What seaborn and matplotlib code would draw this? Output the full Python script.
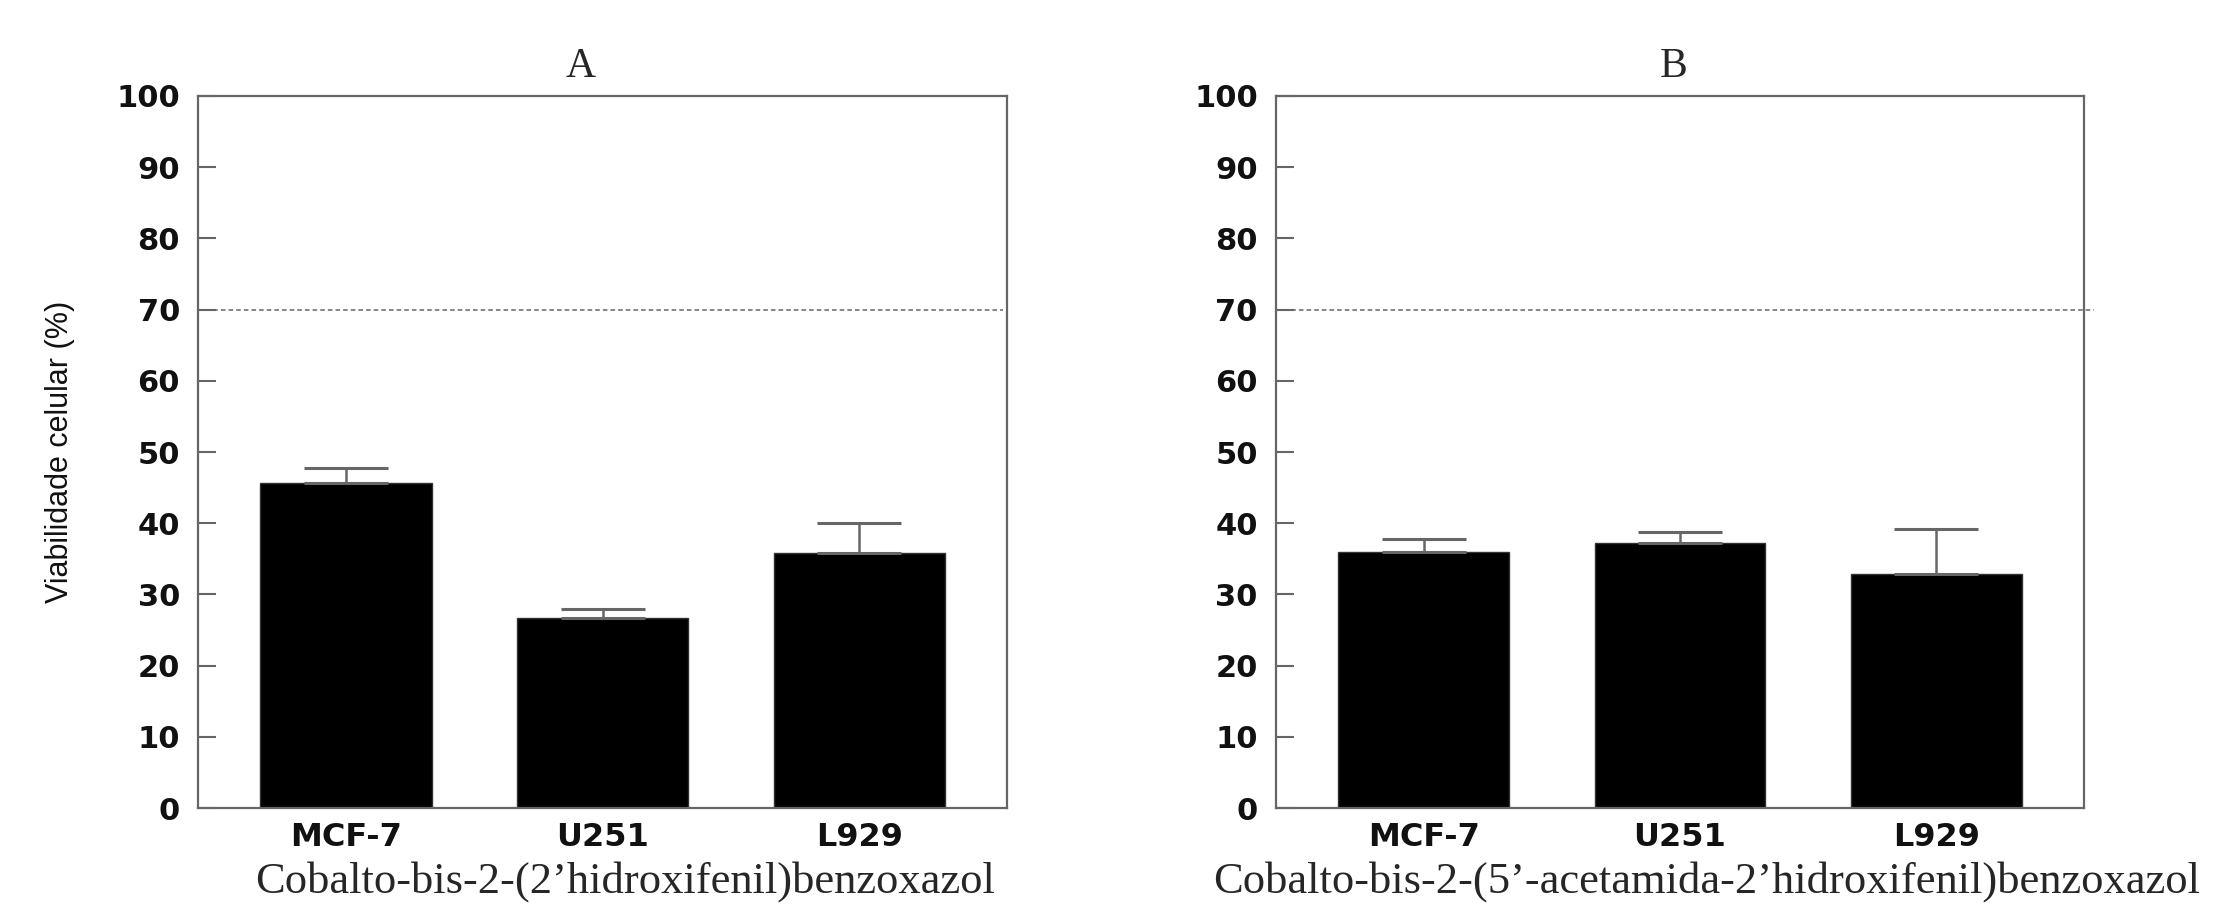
import numpy as np
import pandas as pd
import matplotlib
matplotlib.use("Agg")
import matplotlib.pyplot as plt
from matplotlib import font_manager
import seaborn as sns

# ─── Dados ───────────────────────────────────────────────────
cell_lines = ["MCF-7", "U251", "L929"]
viab_a = [45.6, 26.7, 35.8]
err_a = [2.2, 1.2, 4.2]
viab_b = [35.9, 37.2, 32.8]
err_b = [1.9, 1.6, 6.4]
panel_titles = ["A", "B"]
compound_names = [
    "Cobalto-bis-2-(2\u2019hidroxifenil)benzoxazol",
    "Cobalto-bis-2-(5\u2019-acetamida-2\u2019hidroxifenil)benzoxazol",
]
threshold = 70
y_ticks = list(range(0, 101, 10))

sns.set_style("white")
plt.rcParams["font.family"] = ["DejaVu Sans"]

# fonte condensada para o rótulo do eixo y, se existir
installed = {f.name for f in font_manager.fontManager.ttflist}
if "Liberation Sans Narrow" in installed:
    ylab_font, ylab_size = "Liberation Sans Narrow", 25
else:
    ylab_font, ylab_size = "Liberation Sans", 22

fig = plt.figure(figsize=(22.14, 9.08), dpi=100)
ax_a = fig.add_axes([0.0894, 0.1101, 0.3655, 0.7842])
ax_b = fig.add_axes([0.5763, 0.1101, 0.3650, 0.7842])

gray = "#666666"
panels = [
    (ax_a, viab_a, err_a, 0.473, 0.528, 0.995),
    (ax_b, viab_b, err_b, 0.492, 0.533, 1.012),
]

for i, (ax, vals, errs, tx, lx, line_end) in enumerate(panels):
    df = pd.DataFrame({"linha": cell_lines, "viab": vals})
    sns.barplot(data=df, x="linha", y="viab", color="black", width=0.667,
                errorbar=None, saturation=1, edgecolor="#333333",
                linewidth=1, ax=ax)
    ax.errorbar(np.arange(len(vals)), vals, yerr=[np.zeros(len(errs)), errs],
                fmt="none", ecolor=gray, elinewidth=1.8, capsize=30,
                capthick=2.2, zorder=1)
    # linha de 70 % (limite de citotoxicidade)
    ax.axhline(threshold, xmin=0, xmax=line_end, color=gray, lw=1.1,
               ls=(0, (3, 2)), zorder=0, clip_on=False)

    ax.set_xlim(-0.577, 2.577)
    ax.set_ylim(0, 100)
    ax.set_yticks(y_ticks)
    ax.set_yticklabels([str(t) for t in y_ticks], fontsize=22,
                       fontweight="bold", color="#111111")
    ax.set_xticks(range(3))
    ax.set_xticklabels(cell_lines, fontsize=23, fontweight="bold",
                       color="#111111")
    ax.tick_params(axis="y", direction="in", length=13, width=1.5,
                   color=gray, pad=13, left=True)
    ax.tick_params(axis="x", length=0, pad=10)

    for s in ax.spines.values():
        s.set_visible(True)
        s.set_color(gray)
        s.set_linewidth(1.6)

    ax.set_title(panel_titles[i], fontsize=30, family="Liberation Serif",
                 x=tx, pad=14)
    ax.set_xlabel(compound_names[i], fontsize=32, family="Liberation Serif")
    ax.xaxis.set_label_coords(lx, -0.075)
    ax.set_ylabel("")

ax_a.set_ylabel("Viabilidade celular (%)", fontsize=ylab_size,
                family=[ylab_font, "DejaVu Sans"], color="#111111")
ax_a.yaxis.set_label_coords(-0.152, 0.5)

fig.savefig("out.png", dpi=100, facecolor="white")
